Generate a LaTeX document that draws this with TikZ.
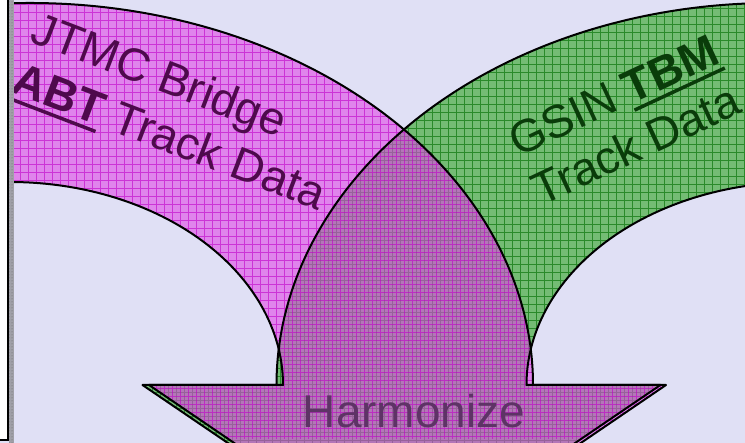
\documentclass[tikz,border=0pt]{standalone}
\usepackage{fontspec}
\setmainfont{Liberation Sans}
\usetikzlibrary{calc,patterns}
\definecolor{SlideBg}{HTML}{E0E0F5}
\definecolor{MagFill}{HTML}{E048E6}
\definecolor{MagGrid}{HTML}{C000C8}
\definecolor{MagInk}{HTML}{4E0A4C}
\definecolor{GrnFill}{HTML}{74BC74}
\definecolor{GrnGrid}{HTML}{2A8A2A}
\definecolor{GrnInk}{HTML}{0A3C0A}
\definecolor{HarmInk}{HTML}{5E3366}
\definecolor{EdgeGray}{HTML}{A0A0A8}

\newcommand{\barunder}[1]{\setbox0=\hbox{#1}\rlap{\rule[-8pt]{\wd0}{3.5pt}}\box0\relax}

\tikzset{
  bigtext/.style={font=\fontsize{46}{54}\selectfont, inner sep=0pt, align=left},
  outline/.style={draw=black, line width=2pt, line join=round},
}

\begin{document}
\begin{tikzpicture}[x=1pt,y=1pt]
  \useasboundingbox (0,0) rectangle (745,-443);
  \fill[SlideBg] (0,0) rectangle (745,-443);
  % band paths (outer arc, inner arc, head)
  \def\grnpath{(276.5,-385) -- (142.5,-385) -- (401.5,-561) -- (660.5,-385) -- (526.5,-385)
    arc[start angle=180,end angle=80,x radius=273,y radius=203]
    -- ($(773,-385)+(80:496.5 and 382)$)
    arc[start angle=80,end angle=180,x radius=496.5,y radius=382] -- cycle}
  \def\magpath{(533,-385) -- (666,-385) -- (407.5,-561) -- (149,-385) -- (283,-385)
    arc[start angle=0,end angle=100,x radius=273,y radius=203]
    -- ($(30,-385)+(100:503 and 382)$)
    arc[start angle=100,end angle=0,x radius=503,y radius=382] -- cycle}
  % green band
  \begin{scope}
    \clip \grnpath;
    \fill[GrnFill] (0,0) rectangle (745,-443);
    \draw[GrnGrid, line width=0.6pt, step=8] (0,-443) grid (745,0);
  \end{scope}
  % magenta band, see-through
  \begin{scope}
    \clip \magpath;
    \fill[MagFill, fill opacity=0.6] (0,0) rectangle (745,-443);
    \draw[MagGrid, draw opacity=0.6, line width=0.6pt, step=8, shift={(4,4)}] (0,-443) grid (745,0);
  \end{scope}
  \draw[outline] \grnpath;
  \draw[outline] \magpath;
  % labels
  \node[bigtext, text=MagInk, rotate=-21] (jtmc) at (178,-114)
    {JTMC Bridge\\\barunder{\textbf{ABT}} Track Data};
  \node[bigtext, text=GrnInk, rotate=25] (gsin) at (625,-120)
    {GSIN \barunder{\textbf{TBM}}\\Track Data};
  \node[bigtext, text=HarmInk] (harm) at (414,-411) {Harmonize};
  % slide edge on the left
  \fill[white] (0,0) rectangle (8,-440);
  \draw[black, line width=1.5pt] (8,0) -- (8,-440) -- (0,-440);
  \fill[EdgeGray] (9,0) rectangle (14,-443);
  \fill[pattern=dots, pattern color=black!60] (9,0) rectangle (14,-443);
\end{tikzpicture}
\end{document}
